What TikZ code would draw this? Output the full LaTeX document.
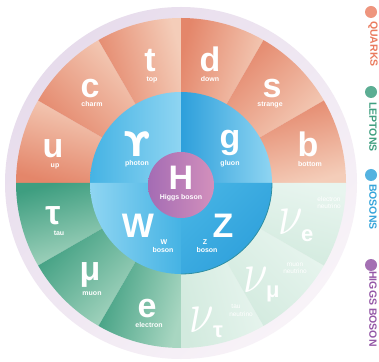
\RequirePackage{fix-cm}
\documentclass[tikz,border=0pt]{standalone}
\usepackage{fontspec}
\setmainfont{Liberation Sans}
\newfontfamily\greekfont{DejaVu Sans}
\usepackage{graphicx}

\definecolor{qdark}{HTML}{E4866A}
\definecolor{qlight}{HTML}{F4CDB9}
\definecolor{ldark}{HTML}{3E9E80}
\definecolor{llight}{HTML}{A8D6C1}
\definecolor{ndark}{HTML}{D2EADE}
\definecolor{nlight}{HTML}{E8F5EF}
\definecolor{bdark}{HTML}{2D9FDB}
\definecolor{bmid}{HTML}{45B3E4}
\definecolor{blight}{HTML}{8FD5F2}
\definecolor{hleft}{HTML}{A46CB4}
\definecolor{hright}{HTML}{D390BC}
\definecolor{ringA}{HTML}{E7DCEC}
\definecolor{ringB}{HTML}{F8F3F8}
\definecolor{zedge}{HTML}{2F8FA3}
\definecolor{legq}{HTML}{EA7B5E}
\definecolor{legl}{HTML}{3F9F80}
\definecolor{legb}{HTML}{36A4DA}
\definecolor{legh}{HTML}{9457A6}

% one shaded annular wedge around (C): start, end, inner r, outer r, colour at larger angle, colour at smaller angle
\newcommand\wedgeshade[6]{%
  \pgfmathsetmacro\wedgemid{(#1+#2)/2}%
  \shade[top color=#5, bottom color=#6, shading angle=\wedgemid]
    ([shift={(#1:#3)}]C) arc[start angle=#1, end angle=#2, radius=#3]
    -- ([shift={(#2:#4)}]C) arc[start angle=#2, end angle=#1, radius=#4] -- cycle;}

\begin{document}
\begin{tikzpicture}[x=1pt, y=1pt,
  big/.style={text=white, font=\fontsize{34}{34}\selectfont\bfseries, inner sep=0pt, anchor=base},
  lab/.style={text=white, font=\fontsize{7}{8}\selectfont\bfseries, inner sep=0pt, anchor=base},
  nlab/.style={text=white, font=\fontsize{6.5}{7}\selectfont, inner sep=0pt, anchor=base},
  nusym/.style={text=white, inner sep=0pt, anchor=base},
  nusub/.style={text=white, font=\fontsize{22}{22}\selectfont\bfseries, inner sep=0pt, anchor=base west},
  legtext/.style={font=\fontsize{10.5}{11}\selectfont\bfseries, inner sep=0pt, rotate=-90}]

\useasboundingbox (0,0) rectangle (379,361);
\fill[white] (0,0) rectangle (379,361);

\coordinate (C) at (181,178);
\coordinate (HC) at (181,176);

% pale outer rim
\shade[top color=ringA, bottom color=ringB, shading angle=45] (C) circle[radius=176];

% quarks
\wedgeshade{150}{180}{80}{165}{qdark}{qlight}
\wedgeshade{120}{150}{80}{165}{qdark}{qlight}
\wedgeshade{90}{120}{80}{165}{qdark}{qlight}
\wedgeshade{60}{90}{80}{165}{qdark}{qlight}
\wedgeshade{30}{60}{80}{165}{qdark}{qlight}
\wedgeshade{0}{30}{80}{165}{qdark}{qlight}
% charged leptons
\wedgeshade{180}{210}{80}{165}{llight}{ldark}
\wedgeshade{210}{240}{80}{165}{llight}{ldark}
\wedgeshade{240}{270}{80}{165}{llight}{ldark}
% neutrinos
\wedgeshade{270}{300}{80}{165}{nlight}{ndark}
\wedgeshade{300}{330}{80}{165}{nlight}{ndark}
\wedgeshade{330}{360}{80}{165}{nlight}{ndark}

% gauge bosons
\shade[left color=bmid, right color=blight] (C) -- ([shift={(90:91)}]C) arc[start angle=90, end angle=180, radius=91] -- cycle;
\shade[left color=bdark, right color=blight] (C) -- ([shift={(0:91)}]C) arc[start angle=0, end angle=90, radius=91] -- cycle;
\shade[left color=blight, right color=bmid] (C) -- ([shift={(180:91)}]C) arc[start angle=180, end angle=270, radius=91] -- cycle;
\shade[top color=bmid, bottom color=bdark, shading angle=45] (C) -- ([shift={(270:91)}]C) arc[start angle=270, end angle=360, radius=91] -- cycle;
\draw[zedge, line width=0.8pt] ([shift={(270:91)}]C) arc[start angle=270, end angle=360, radius=91];

% Higgs
\shade[left color=hleft, right color=hright] (HC) circle[radius=33];

% quark labels
\node[big] (u) at (53,203) {u};
\node[lab] (ul) at (55,193) {up};
\node[big] (c) at (90,263) {c};
\node[lab] (cl) at (92,254) {charm};
\node[big] (t) at (150,289) {t};
\node[lab] (tl) at (152,279) {top};
\node[big] (d) at (210,289) {d};
\node[lab] (dl) at (210,279) {down};
\node[big] (s) at (272,263) {s};
\node[lab] (sl) at (270,254) {strange};
\node[big] (b) at (308,204) {b};
\node[lab] (bl) at (310,194) {bottom};

% boson labels
\node[big, font=\fontsize{34}{34}\selectfont\greekfont\bfseries] (ga) at (137,204) {ϒ};
\node[lab] (gal) at (137,195) {photon};
\node[big] (g) at (230,212) {g};
\node[lab] (gl) at (230,195) {gluon};
\node[big] (H) at (181,171) {H};
\node[lab] (Hl) at (181,161) {Higgs boson};
\node[big] (W) at (138,123) {W};
\node[lab] (Wl1) at (164,117) {W};
\node[lab] (Wl2) at (163,108) {boson};
\node[big] (Z) at (223,123) {Z};
\node[lab] (Zl1) at (205,117) {Z};
\node[lab] (Zl2) at (207,108) {boson};

% charged lepton labels
\node[big] (tau) at (53,136) {τ};
\node[lab] (taul) at (59,125) {tau};
\node[big] (mu) at (90,81) {μ};
\node[lab] (mul) at (92,66) {muon};
\node[big] (e) at (147,44) {e};
\node[lab] (el) at (149,34) {electron};

% neutrino labels
\node[nusym] (nue) at (291,126) {\scalebox{4.4}[5.8]{$\nu$}};
\node[nusub] (nues) at (301,119) {e};
\node[nlab] (nuel1) at (329,159) {electron};
\node[nlab] (nuel2) at (329,152) {neutrino};
\node[nusym] (num) at (256,68) {\scalebox{4.4}[5.8]{$\nu$}};
\node[nusub] (nums) at (266,64) {μ};
\node[nlab] (numl1) at (295,95) {muon};
\node[nlab] (numl2) at (295,88) {neutrino};
\node[nusym] (nut) at (202,29) {\scalebox{4.4}[5.8]{$\nu$}};
\node[nusub] (nuts) at (213,24) {τ};
\node[nlab] (nutl1) at (236,53) {tau};
\node[nlab] (nutl2) at (241,45) {neutrino};

% legend
\fill[legq!80] (371,349) circle[radius=6];
\node[legtext, text=legq] (lq) at (373,317) {QUARKS};
\fill[legl!85] (371,269) circle[radius=6];
\node[legtext, text=legl] (ll) at (373,234) {LEPTONS};
\fill[legb!85] (371,186) circle[radius=6];
\node[legtext, text=legb] (lb) at (373,154) {BOSONS};
\fill[legh!85] (371,96) circle[radius=6];
\node[legtext, text=legh] (lh) at (373,52) {HIGGS BOSON};
\end{tikzpicture}
\end{document}
